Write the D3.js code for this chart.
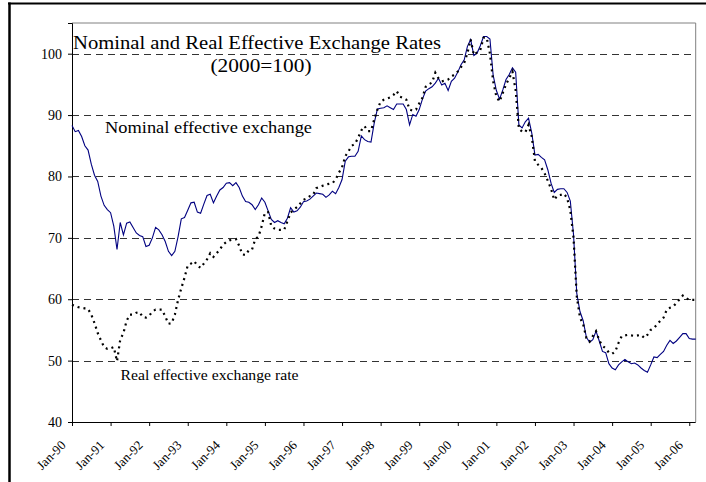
<!DOCTYPE html>
<html>
<head>
<meta charset="utf-8">
<script src="https://cdn.jsdelivr.net/npm/d3@7"></script>
<style>
  body { margin: 0; background: #fff; }
  svg { display: block; font-family: "Liberation Serif", "Times New Roman", serif; }
</style>
</head>
<body>
<div id="chart"></div>
<script>
// monthly values, Jan-90 .. Mar-06 (2000=100)
const nominal = [
  88.3, 87.3, 87.5, 86.5, 85.0, 84.3, 82.0, 80.2, 79.2, 76.8, 75.3, 74.6,
  74.1, 71.9, 68.1, 72.5, 70.5, 72.4, 72.6, 71.7, 70.8, 70.4, 70.2, 68.6,
  68.8, 70.0, 71.7, 71.3, 70.5, 69.4, 67.8, 67.1, 67.8, 70.2, 73.1, 73.3,
  74.5, 75.7, 75.8, 74.2, 74.0, 75.5, 76.9, 77.1, 75.7, 76.8, 77.8, 78.2,
  78.9, 79.0, 78.5, 79.0, 78.2, 76.8, 75.9, 75.8, 75.4, 74.6, 75.4, 76.5,
  75.8, 74.4, 73.0, 72.5, 72.8, 72.5, 72.3, 73.2, 74.9, 74.2, 74.4, 75.0,
  75.9, 76.0, 76.3, 76.8, 77.3, 77.2, 77.1, 76.6, 77.0, 77.6, 77.2, 78.2,
  79.5, 82.5, 83.2, 83.3, 83.3, 84.1, 86.6, 86.0, 85.7, 85.6, 88.7, 91.0,
  91.1, 91.2, 91.5, 91.2, 90.9, 91.8, 91.8, 91.8, 90.9, 88.4, 90.1, 89.8,
  90.9, 92.6, 93.9, 94.3, 94.6, 95.2, 96.0, 94.9, 95.2, 94.0, 95.5, 96.0,
  97.0, 98.2, 99.0, 101.2, 102.3, 99.7, 100.1, 101.3, 102.8, 102.8, 102.4, 96.5,
  94.0, 92.6, 94.1, 95.8, 96.6, 97.7, 97.0, 88.4, 87.9, 88.9, 89.5, 87.1,
  83.5, 83.6, 83.1, 82.7, 81.1, 78.9, 77.4, 77.9, 78.0, 78.0, 77.4, 76.0,
  70.5, 61.0, 58.0, 56.5, 53.8, 53.0, 53.4, 54.8, 53.2, 51.5, 51.3, 49.5,
  48.8, 48.5, 49.3, 49.8, 50.2, 49.8, 49.5, 49.6, 49.3, 48.8, 48.4, 48.1,
  49.3, 50.6, 50.5, 51.0, 51.5, 52.5, 53.3, 52.8, 53.2, 53.8, 54.4, 54.4,
  53.6, 53.5, 53.5
];

const real = [
  59.1, 58.9, 58.7, 58.6, 58.5, 58.4, 57.5, 56.1, 54.5, 53.3, 52.2, 51.9,
  52.0, 52.2, 49.9, 53.4, 54.5, 56.5, 57.5, 57.5, 57.8, 57.9, 57.1, 57.0,
  57.3, 58.0, 58.3, 58.3, 58.3, 57.2, 56.0, 56.1, 57.5, 59.9, 61.8, 63.5,
  65.5, 65.8, 66.2, 65.5, 65.1, 65.8, 66.5, 67.5, 66.9, 67.5, 68.1, 68.9,
  69.3, 69.6, 69.7, 69.8, 68.7, 67.3, 67.2, 68.0, 68.1, 69.8, 70.2, 71.9,
  74.1, 74.2, 71.9, 71.5, 71.3, 71.3, 71.3, 72.7, 74.1, 74.6, 75.0, 75.6,
  76.2, 76.4, 76.8, 77.0, 78.1, 78.3, 78.5, 78.7, 78.8, 78.9, 79.5, 80.6,
  81.5, 83.3, 84.1, 85.0, 85.3, 86.3, 87.5, 88.2, 87.4, 87.4, 89.3, 90.9,
  92.2, 92.5, 92.7, 92.9, 93.3, 93.9, 93.0, 92.8, 92.5, 90.9, 90.7, 90.9,
  91.9, 92.8, 94.6, 95.0, 95.3, 96.9, 96.0, 95.5, 95.6, 95.8, 96.3, 96.6,
  97.1, 97.8, 98.5, 100.1, 102.3, 99.8, 100.2, 100.6, 102.6, 102.6, 100.0, 95.5,
  93.0, 92.2, 93.6, 95.0, 96.0, 97.1, 94.0, 87.8, 87.3, 87.2, 88.4, 86.5,
  82.5, 81.9, 81.4, 80.5, 79.3, 78.0, 76.2, 76.9, 77.0, 77.2, 76.5, 74.5,
  70.0, 60.5, 57.0, 55.9, 53.7, 53.1, 54.0, 54.8, 53.3, 52.4, 52.0, 51.3,
  51.1, 51.5, 52.9, 54.0, 54.1, 54.2, 54.1, 54.0, 54.1, 54.2, 53.7, 54.2,
  55.0, 55.3, 55.9, 56.5, 57.0, 58.3, 58.6, 58.8, 59.4, 60.0, 60.6, 60.2,
  59.9, 59.9, 59.9
];

const yearLabels = ['Jan-90', 'Jan-91', 'Jan-92', 'Jan-93', 'Jan-94', 'Jan-95', 'Jan-96', 'Jan-97',
  'Jan-98', 'Jan-99', 'Jan-00', 'Jan-01', 'Jan-02', 'Jan-03', 'Jan-04', 'Jan-05', 'Jan-06'];
const yTicks = [40, 50, 60, 70, 80, 90, 100];
const gridValues = [50, 60, 70, 80, 90, 100];

const width = 706, height = 482;
const plotL = 72, plotR = 695.7, plotT = 23, plotB = 422;

const svg = d3.select('#chart')
  .append('svg')
  .attr('width', width)
  .attr('height', height);

// outer frame (partly cut off)
svg.append('line').attr('x1', 8).attr('x2', width).attr('y1', 3.5).attr('y2', 3.5)
  .attr('stroke', '#000').attr('stroke-width', 2);
svg.append('line').attr('x1', 9.5).attr('x2', 9.5).attr('y1', 2.5).attr('y2', height)
  .attr('stroke', '#000').attr('stroke-width', 2.5);

const x = d3.scaleLinear().domain([0, 194]).range([plotL, plotR]);
const y = d3.scaleLinear().domain([40, 105]).range([plotB, plotT]);

// plot border (top/right grey)
svg.append('path')
  .attr('d', `M${plotL},${plotT}H${plotR}V${plotB}`)
  .attr('fill', 'none')
  .attr('stroke', '#808080')
  .attr('stroke-width', 1);

// dashed gridlines
svg.selectAll('.grid')
  .data(gridValues)
  .enter()
  .append('line')
  .attr('class', 'grid')
  .attr('x1', plotL)
  .attr('x2', plotR)
  .attr('y1', d => Math.round(y(d)) + 0.5)
  .attr('y2', d => Math.round(y(d)) + 0.5)
  .attr('stroke', '#333')
  .attr('stroke-width', 1)
  .attr('stroke-dasharray', '7,5');

// y axis
const yAxis = svg.append('g')
  .attr('transform', `translate(${plotL},0)`)
  .call(d3.axisLeft(y).tickValues(yTicks).tickSize(4).tickPadding(6).tickFormat(d3.format('d')));
yAxis.selectAll('text').attr('font-size', 14).attr('font-family', 'Liberation Serif').attr('fill', '#000');
yAxis.selectAll('line, path').attr('stroke', '#000');

// x axis
const xAxis = svg.append('g')
  .attr('transform', `translate(0,${plotB})`)
  .call(d3.axisBottom(x)
    .tickValues(yearLabels.map((d, i) => i * 12))
    .tickSize(4)
    .tickFormat((d, i) => yearLabels[i]));
xAxis.select('.domain').attr('d', `M${plotL},0.5H${plotR}`);
xAxis.selectAll('line, path').attr('stroke', '#000');
xAxis.selectAll('text')
  .attr('font-size', 13)
  .attr('font-family', 'Liberation Serif')
  .attr('fill', '#000')
  .attr('text-anchor', 'end')
  .attr('dy', null)
  .attr('y', null)
  .attr('transform', 'translate(-6,24) rotate(-45)');

// lines
const line = d3.line()
  .x((d, i) => x(i))
  .y(d => y(d));

svg.append('path')
  .datum(nominal)
  .attr('fill', 'none')
  .attr('stroke', '#000080')
  .attr('stroke-width', 1.1)
  .attr('d', line);

svg.append('path')
  .datum(real)
  .attr('fill', 'none')
  .attr('stroke', '#000')
  .attr('stroke-width', 2.2)
  .attr('stroke-dasharray', '2,4')
  .attr('d', line);

// titles and labels
const texts = [
  { t: 'Nominal and Real Effective Exchange Rates', x: 73, y: 49, size: 19, len: 368 },
  { t: '(2000=100)', x: 210.5, y: 72, size: 19, len: 101 },
  { t: 'Nominal effective exchange', x: 105, y: 133, size: 16, len: 207 },
  { t: 'Real effective exchange rate', x: 120.5, y: 380, size: 15, len: 178 }
];
svg.selectAll('.label')
  .data(texts)
  .enter()
  .append('text')
  .attr('class', 'label')
  .attr('x', d => d.x)
  .attr('y', d => d.y)
  .attr('font-size', d => d.size)
  .attr('textLength', d => d.len)
  .attr('lengthAdjust', 'spacingAndGlyphs')
  .attr('fill', '#000')
  .text(d => d.t);
</script>
</body>
</html>
